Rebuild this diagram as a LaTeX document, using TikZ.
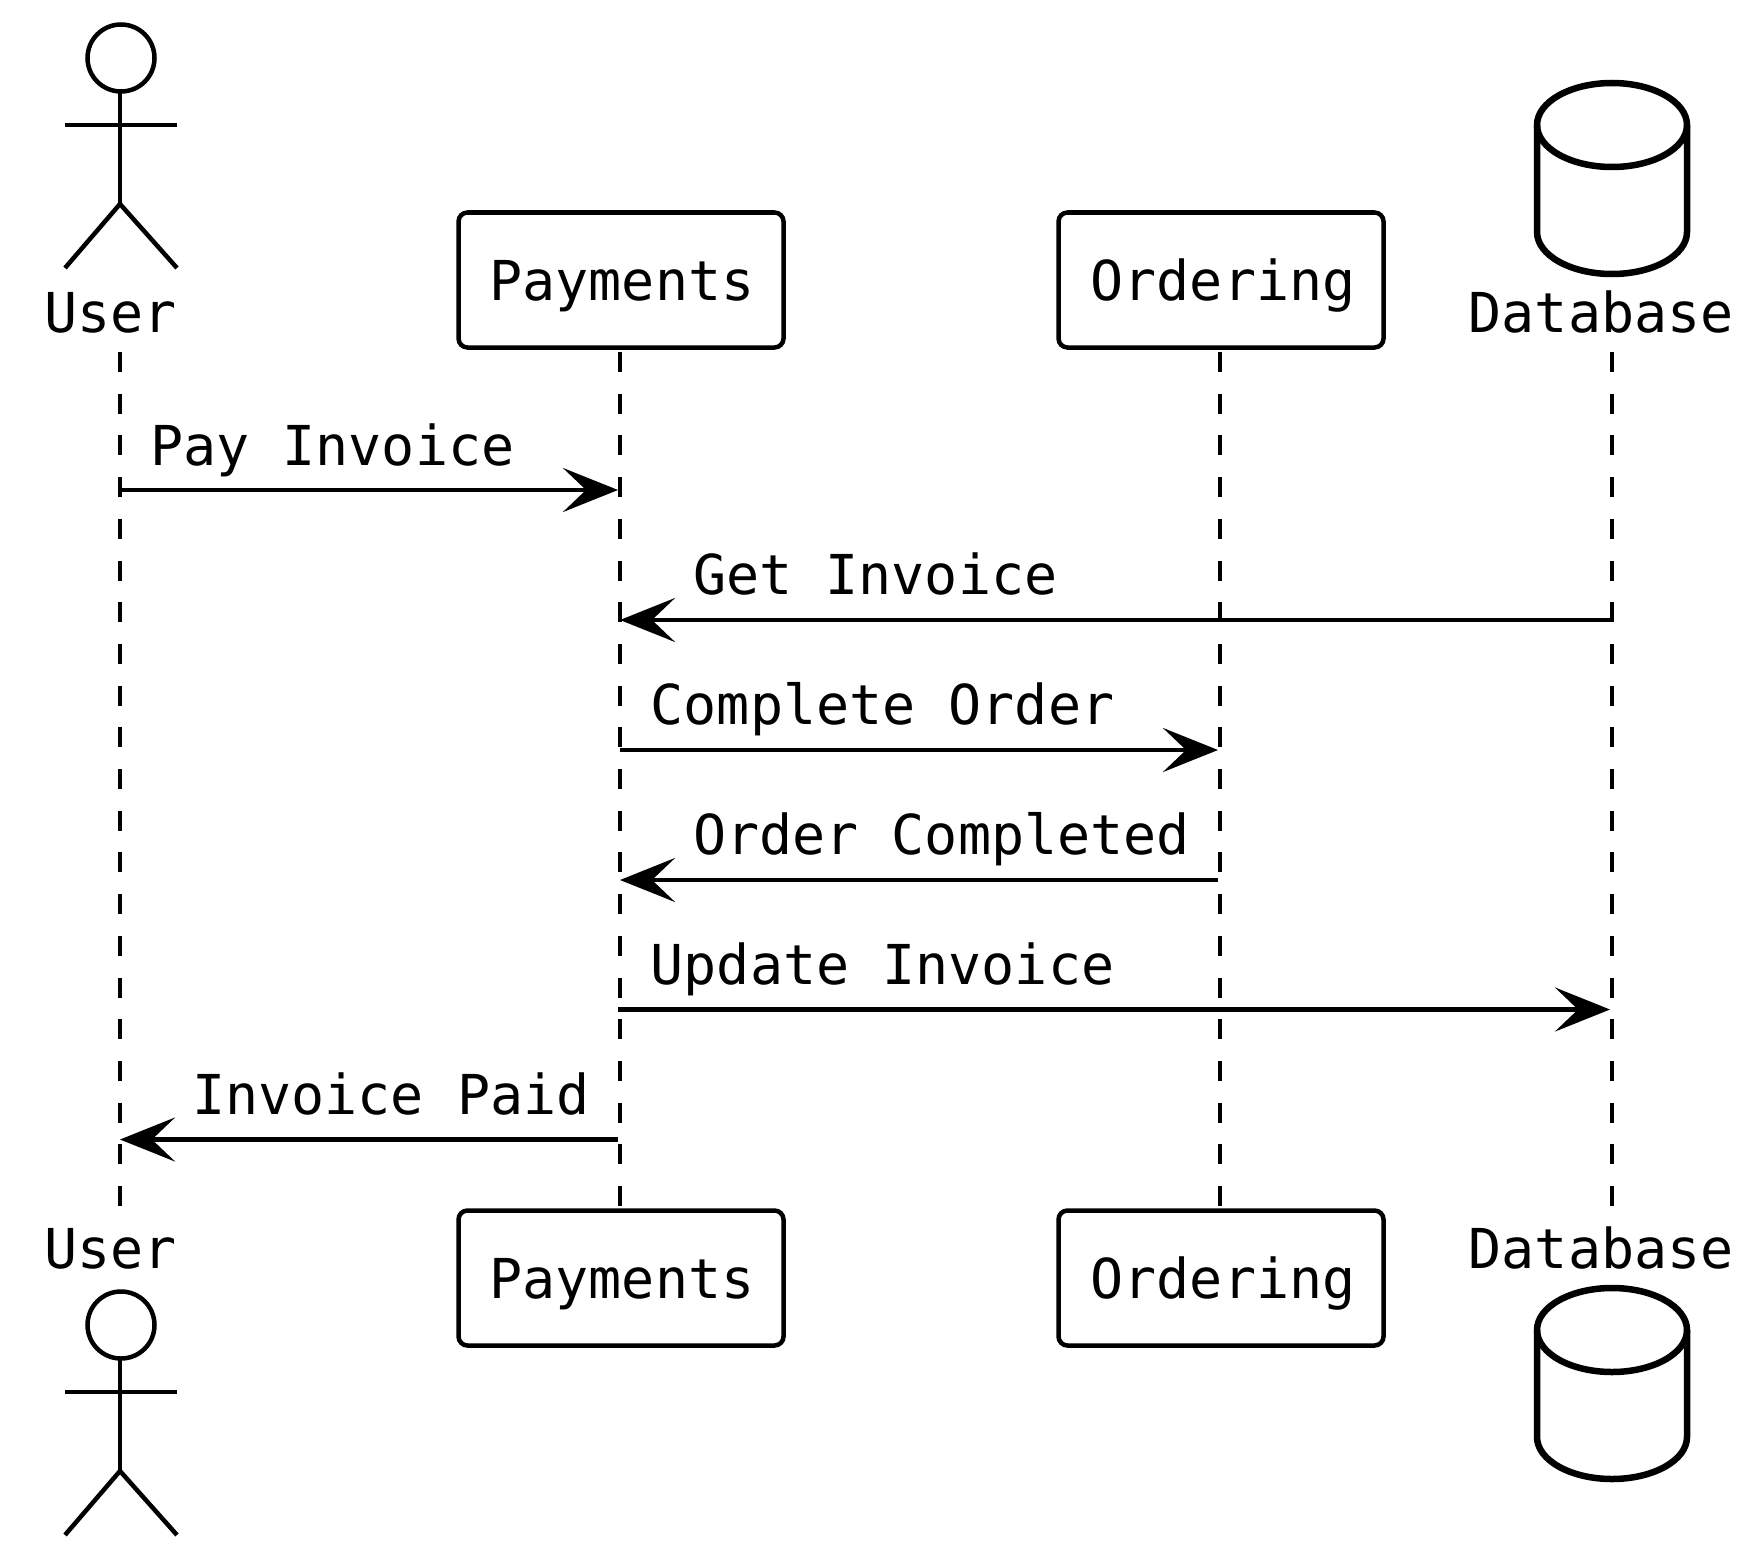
\documentclass[tikz,border=0pt]{standalone}
\usepackage{fontspec}
\setmonofont{DejaVu Sans Mono}
\usetikzlibrary{arrows.meta}
\tikzset{
  lbl/.style={anchor=base west,inner sep=0pt,font=\fontsize{55}{60}\selectfont\ttfamily},
  boxnode/.style={draw=black,line width=4.5pt,rounded corners=9pt,minimum width=325pt,minimum height=135pt,inner sep=0pt,
    text height=52.5pt,text depth=12pt,font=\fontsize{55}{60}\selectfont\ttfamily},
  life/.style={line width=4pt,dash pattern=on 20pt off 21.7pt},
  msg/.style={line width=4.5pt,-{Stealth[length=55pt,width=44pt,inset=23pt]}},
  fig/.style={line width=4.5pt},
  dbshape/.style={line width=6.5pt},
  headnode/.style={circle,draw=black,line width=4.5pt,minimum size=67pt,inner sep=0pt}
}
\newcommand{\actorfig}[3]{% name, x, head y
  \node[headnode] (#1head) at (#2+1,#3) {};
  \coordinate (#1neck) at (#2,#3+34);
  \coordinate (#1hip) at (#2,#3+146);
  \coordinate (#1arml) at (#2-55,#3+67);
  \coordinate (#1armr) at (#2+57,#3+67);
  \coordinate (#1footl) at (#2-55,#3+210);
  \coordinate (#1footr) at (#2+57,#3+210);
  \draw[fig] (#1neck) -- (#1hip);
  \draw[fig] (#1arml) -- (#1armr);
  \draw[fig] (#1footl) -- (#1hip) -- (#1footr);
}
\newcommand{\dbfig}[2]{% x centre, top y
  \draw[dbshape,line join=round]
     (#1-75,#2+42) .. controls (#1-75,#2+18.8) and (#1-41.4,#2) .. (#1,#2)
     .. controls (#1+41.4,#2) and (#1+75,#2+18.8) .. (#1+75,#2+42)
     -- (#1+75,#2+149)
     .. controls (#1+75,#2+172.2) and (#1+41.4,#2+191) .. (#1,#2+191)
     .. controls (#1-41.4,#2+191) and (#1-75,#2+172.2) .. (#1-75,#2+149)
     -- cycle;
  \draw[dbshape]
     (#1-75,#2+42) .. controls (#1-75,#2+65.2) and (#1-41.4,#2+84) .. (#1,#2+84)
     .. controls (#1+41.4,#2+84) and (#1+75,#2+65.2) .. (#1+75,#2+42);
}
\begin{document}
\begin{tikzpicture}[x=1pt,y=-1pt]
\useasboundingbox (0,0) rectangle (1758,1557);
% lifeline ends
\coordinate (ut) at (120,352); \coordinate (ub) at (120,1206);
\coordinate (dt) at (1612,352); \coordinate (db) at (1612,1206);
% boxes
\node[boxnode] (paytop) at (621,280) {\hspace*{2pt}Payments};
\node[boxnode] (ordtop) at (1221,280) {\hspace*{4pt}Ordering};
\node[boxnode] (paybot) at (621,1278) {\hspace*{2pt}Payments};
\node[boxnode] (ordbot) at (1221,1278) {\hspace*{4pt}Ordering};
\draw[life] (ut) -- (ub);
\draw[life] ([xshift=-1pt]paytop.south |- ut) -- ([xshift=-1pt]paybot.north |- ub);
\draw[life] ([xshift=-1pt]ordtop.south |- ut) -- ([xshift=-1pt]ordbot.north |- ub);
\draw[life] (dt) -- (db);
% actors
\actorfig{ua}{120}{58}
\actorfig{ub}{120}{1325}
\node[lbl] (ulabt) at (44,332.5) {User};
\node[lbl] (ulabb) at (44,1268.5) {User};
% databases
\dbfig{1612}{83}
\dbfig{1612}{1288}
\node[lbl] (dlabt) at (1468.5,332.5) {Database};
\node[lbl] (dlabb) at (1468.5,1268.5) {Database};
% messages
\coordinate (m1a) at (120,490);  \coordinate (m1b) at (618,490);
\coordinate (m2a) at (1612,620); \coordinate (m2b) at (620,620);
\coordinate (m3a) at (620,750);  \coordinate (m3b) at (1218,750);
\coordinate (m4a) at (1218,880); \coordinate (m4b) at (620,880);
\coordinate (m5a) at (618,1009.5); \coordinate (m5b) at (1610,1009.5);
\coordinate (m6a) at (618,1139.5); \coordinate (m6b) at (120,1139.5);
\draw[msg] (m1a) -- (m1b);
\draw[msg] (m2a) -- (m2b);
\draw[msg] (m3a) -- (m3b);
\draw[msg] (m4a) -- (m4b);
\draw[msg] (m5a) -- (m5b);
\draw[msg] (m6a) -- (m6b);
\node[lbl] (t1) at (150,465) {Pay Invoice};
\node[lbl] (t2) at (693,594) {Get Invoice};
\node[lbl] (t3) at (650.5,724.5) {Complete Order};
\node[lbl] (t4) at (693,854.5) {Order Completed};
\node[lbl] (t5) at (650.5,984.5) {Update Invoice};
\node[lbl] (t6) at (192,1114.5) {Invoice Paid};
\end{tikzpicture}
\end{document}
